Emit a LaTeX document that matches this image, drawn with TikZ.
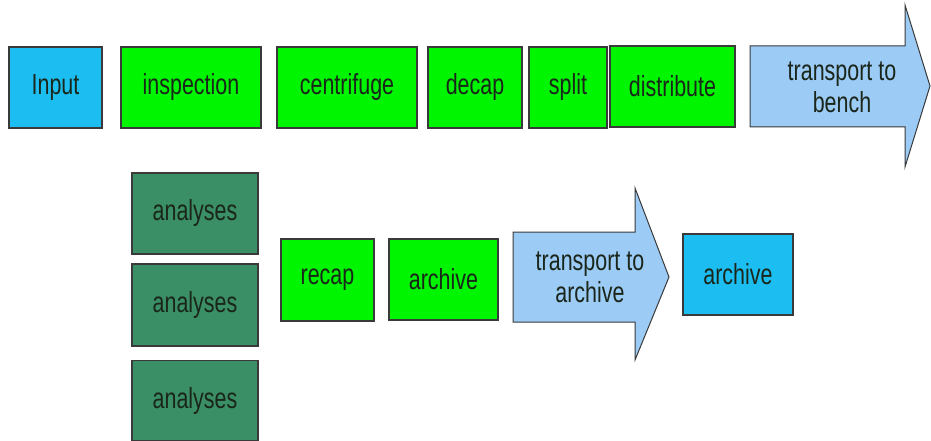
\documentclass[tikz,border=0pt]{standalone}
\usepackage{fontspec}
\setmainfont[FakeStretch=0.74]{Liberation Sans}
\definecolor{cyanbox}{HTML}{1CBEF2}
\definecolor{greenbox}{HTML}{00F500}
\definecolor{darkbox}{HTML}{3A8F66}
\definecolor{arrowfill}{HTML}{9CCBF5}
\definecolor{edge}{HTML}{3A3A3A}
\definecolor{txt}{HTML}{1A261A}
\begin{document}
\begin{tikzpicture}[x=1pt,y=-1pt,
  box/.style={draw=edge, line width=1.2pt, inner sep=0pt, text=txt,
    font=\fontsize{29}{32}\selectfont},
  cbox/.style={box, fill=cyanbox},
  gbox/.style={box, fill=greenbox},
  dbox/.style={box, fill=darkbox},
  bigarrow/.style={draw=edge, line width=1pt, fill=arrowfill},
  arrowtext/.style={align=center, text=txt, inner sep=0pt,
    font=\fontsize{29}{32}\selectfont}]
\useasboundingbox (0,0) rectangle (931,441);
% top row
\node[cbox, minimum width=93pt, minimum height=81pt] (input) at (55.5,87.5) {Input};
\node[gbox, minimum width=140pt, minimum height=81pt] (inspection) at (191,87.5) {inspection};
\node[gbox, minimum width=140pt, minimum height=81pt] (centrifuge) at (347,87.5) {centrifuge};
\node[gbox, minimum width=94pt, minimum height=81pt] (decap) at (475,87.5) {decap};
\node[gbox, minimum width=78pt, minimum height=81pt] (split) at (568,87.5) {split};
\node[gbox, minimum width=125pt, minimum height=81pt] (distribute) at (672.5,86.5) {distribute};
% transport to bench arrow
\draw[bigarrow] (750,46) -- (905,46) -- (905,5) -- (930,86) -- (905,167) -- (905,127) -- (750,127) -- cycle;
\node[arrowtext] (bench) at (842,87) {transport to\\bench};
% lower part
\node[dbox, minimum width=126pt, minimum height=81pt] (an1) at (195,213.5) {analyses};
\node[dbox, minimum width=126pt, minimum height=82pt] (an2) at (195,305) {analyses};
\node[dbox, minimum width=126pt, minimum height=80pt] (an3) at (195,400.5) {analyses};
\node[gbox, minimum width=93pt, minimum height=82pt] (recap) at (327.5,280) {recap};
\node[gbox, minimum width=109pt, minimum height=81pt] (archg) at (443.5,279.5) {archive};
% transport to archive arrow
\draw[bigarrow] (513,232) -- (635,232) -- (635,188) -- (669,277) -- (635,360) -- (635,322) -- (513,322) -- cycle;
\node[arrowtext] (toarch) at (590,277) {transport to\\archive};
\node[cbox, minimum width=110pt, minimum height=81pt] (archb) at (738,274.5) {archive};
\end{tikzpicture}
\end{document}
